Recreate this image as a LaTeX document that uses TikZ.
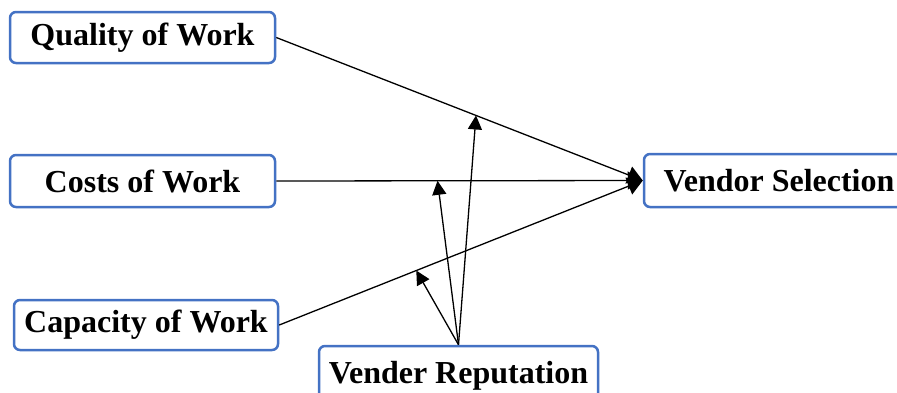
\documentclass[tikz,border=0pt]{standalone}
\usepackage{fontspec}
\setmainfont{Liberation Serif}
\usepackage{tikz}
\usetikzlibrary{arrows.meta,calc,positioning}
\definecolor{boxblue}{RGB}{68,114,196}

\begin{document}
\begin{tikzpicture}[x=1pt,y=-1pt,
  box/.style={draw=boxblue,line width=2.5pt,rounded corners=6pt,fill=white,inner sep=0pt,font=\fontsize{32}{38}\selectfont\bfseries},
  link/.style={line width=1.3pt,-{Triangle[length=15pt,width=18pt]}},
  moder/.style={line width=1.3pt,-{Triangle[length=14pt,width=14pt]}}]
\useasboundingbox (0,0) rectangle (897,392);
\clip (0,0) rectangle (897,392);
\node[box,minimum width=265pt,minimum height=51pt] (quality) at (142.5,37.5) {Quality of Work};
\node[box,minimum width=265pt,minimum height=52pt] (costs) at (142.5,181) {Costs of Work};
\node[box,minimum width=264pt,minimum height=50pt] (capacity) at (146,325) {Capacity of Work};
\node[box,minimum width=279pt,minimum height=54pt,text depth=2pt] (reputation) at (458.5,373) {Vender Reputation};
\node[box,minimum width=284pt,minimum height=53pt] (selection) at (786,180.5) {\hspace*{-14pt}Vendor Selection};
\draw[link] (quality.east) -- (selection.west);
\draw[link] (costs.east) -- (selection.west);
\draw[link] (capacity.east) -- (selection.west);
\coordinate (mq) at ($(quality.east)!0.545!(selection.west)$);
\coordinate (mc) at ($(costs.east)!0.44!(selection.west)$);
\coordinate (mp) at ($(capacity.east)!0.377!(selection.west)$);
\draw[moder] (reputation.north) -- (mq);
\draw[moder] (reputation.north) -- (mc);
\draw[moder] (reputation.north) -- (mp);
\end{tikzpicture}
\end{document}
